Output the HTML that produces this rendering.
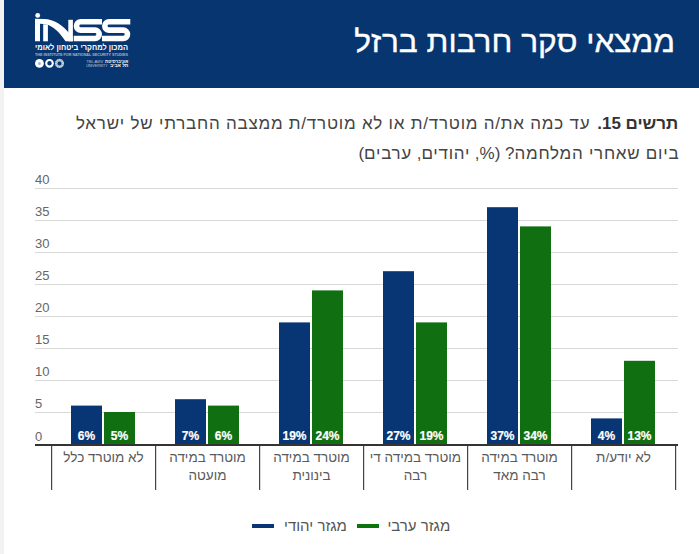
<!DOCTYPE html>
<html lang="he" dir="rtl">
<head>
<meta charset="utf-8">
<style>
html,body{margin:0;padding:0;}
body{width:699px;height:554px;overflow:hidden;position:relative;background:#fff;font-family:"Liberation Sans",sans-serif;}
.strip{position:absolute;left:0;top:0;width:4px;height:554px;background:#f2f2f2;}
.header{position:absolute;left:4px;top:0;width:695px;height:88px;background:#063570;}
.title{position:absolute;right:24px;top:24.3px;color:#fff;font-size:30px;line-height:36px;white-space:nowrap;transform:scaleX(1.055);transform-origin:100% 50%;-webkit-text-stroke:0.35px #fff;}
.q{position:absolute;right:22px;color:#444;font-size:17px;line-height:20px;white-space:nowrap;}
.q b{color:#333;}
.yl{position:absolute;left:35px;color:#666;font-size:13px;line-height:14px;direction:ltr;}
.xl{position:absolute;width:104px;text-align:center;color:#5a5a5a;font-size:13.5px;line-height:18px;}
.bl{position:absolute;width:31px;text-align:center;color:#fff;font-size:12px;font-weight:bold;line-height:12px;direction:ltr;-webkit-text-stroke:0.2px #fff;}
.lg{position:absolute;color:#555;font-size:15px;line-height:16px;white-space:nowrap;}
svg{position:absolute;left:0;top:0;direction:ltr;}
</style>
</head>
<body>
<div class="strip"></div>
<div class="header">
</div>
<svg width="699" height="554" viewBox="0 0 699 554">
  <!-- logo -->
  <g fill="#fff">
    <circle cx="37.7" cy="15.4" r="2.4"/>
    <path d="M35,18.7 L44,18.9 C54,19.2 63,25 70,34 L72.9,38 V41.3 H65.5 C60,33 54,26.5 46,24.3 L40,23.8 V41.3 H35 Z"/>
    <rect x="43.2" y="24.3" width="4.7" height="17"/>
    <rect x="68.3" y="19.8" width="4.6" height="21.5"/>
    <path fill="none" stroke="#fff" stroke-width="5.6" d="M102,21.75 H80.7 A4.2,4.2 0 0 0 80.7,30.15 H95 A4.2,4.2 0 0 1 95,38.55 H73.7"/>
    <path fill="none" stroke="#fff" stroke-width="5.6" d="M130.3,21.75 H109 A4.2,4.2 0 0 0 109,30.15 H123.3 A4.2,4.2 0 0 1 123.3,38.55 H102"/>
    <circle cx="39.45" cy="63.45" r="4.4"/>
    <circle cx="49.5" cy="63.35" r="3.3" fill="none" stroke="#fff" stroke-width="2.1"/>
    <circle cx="59.5" cy="63.4" r="3.3" fill="none" stroke="#fff" stroke-width="2.6" opacity="0.55"/>
    <circle cx="59.5" cy="63.4" r="3.3" fill="none" stroke="#fff" stroke-width="2.2" stroke-dasharray="0.9 0.7" opacity="0.6"/>
    <text x="35" y="49.9" font-size="8.4" font-weight="bold" textLength="93" lengthAdjust="spacingAndGlyphs" style="font-family:'Liberation Sans',sans-serif">המכון למחקרי ביטחון לאומי</text>
    <text x="35" y="56" font-size="3.6" font-weight="bold" textLength="93" lengthAdjust="spacingAndGlyphs" opacity="0.6" style="font-family:'Liberation Sans',sans-serif">THE INSTITUTE FOR NATIONAL SECURITY STUDIES</text>
    <text x="86.6" y="63.1" font-size="3.8" textLength="16.4" lengthAdjust="spacingAndGlyphs" opacity="0.7" style="font-family:'Liberation Sans',sans-serif">TEL AVIV</text>
    <text x="86.2" y="67" font-size="3.8" textLength="21.5" lengthAdjust="spacingAndGlyphs" opacity="0.7" style="font-family:'Liberation Sans',sans-serif">UNIVERSITY</text>
    <text x="105" y="63.1" font-size="4.3" font-weight="bold" textLength="23.3" lengthAdjust="spacingAndGlyphs" style="font-family:'Liberation Sans',sans-serif">אוניברסיטת</text>
    <text x="110" y="67" font-size="4.3" font-weight="bold" textLength="18.3" lengthAdjust="spacingAndGlyphs" style="font-family:'Liberation Sans',sans-serif">תל אביב</text>
  </g>
  <circle cx="39.45" cy="63.6" r="1.5" fill="#a9b6cf"/>
  <!-- gridlines -->
  <g fill="#d9d9d9">
    <rect x="35" y="188" width="643" height="1"/>
    <rect x="35" y="220" width="643" height="1"/>
    <rect x="35" y="252" width="643" height="1"/>
    <rect x="35" y="284" width="643" height="1"/>
    <rect x="35" y="316" width="643" height="1"/>
    <rect x="35" y="348" width="643" height="1"/>
    <rect x="35" y="380" width="643" height="1"/>
    <rect x="35" y="412" width="643" height="1"/>
  </g>
  <!-- bars -->
  <g fill="#083573">
    <rect x="71" y="405.6" width="31" height="38.4"/>
    <rect x="175" y="399.2" width="31" height="44.8"/>
    <rect x="279" y="322.4" width="31" height="121.6"/>
    <rect x="383" y="271.2" width="31" height="172.8"/>
    <rect x="487" y="207.2" width="31" height="236.8"/>
    <rect x="591" y="418.4" width="31" height="25.6"/>
  </g>
  <g fill="#107011">
    <rect x="104" y="412" width="31" height="32"/>
    <rect x="208" y="405.6" width="31" height="38.4"/>
    <rect x="312" y="290.4" width="31" height="153.6"/>
    <rect x="416" y="322.4" width="31" height="121.6"/>
    <rect x="520" y="226.4" width="31" height="217.6"/>
    <rect x="624" y="360.8" width="31" height="83.2"/>
  </g>
  <!-- axis -->
  <rect x="35" y="444" width="643" height="2" fill="#333"/>
  <g fill="#444">
    <rect x="51" y="446" width="1.2" height="44"/>
    <rect x="155" y="446" width="1.2" height="44"/>
    <rect x="259" y="446" width="1.2" height="44"/>
    <rect x="363" y="446" width="1.2" height="44"/>
    <rect x="467" y="446" width="1.2" height="44"/>
    <rect x="571" y="446" width="1.2" height="44"/>
    <rect x="675" y="446" width="1.2" height="44"/>
  </g>
  <!-- legend lines -->
  <rect x="252" y="524" width="22" height="4" fill="#083573"/>
  <rect x="357" y="524" width="22" height="4" fill="#0c730d"/>
</svg>

<div class="title">ממצאי סקר חרבות ברזל</div>
<div class="q" style="top:113.5px;right:20.7px"><b>תרשים 15.</b></div>
<div class="q" style="top:113.5px;right:108.7px;letter-spacing:0.77px">עד כמה את/ה מוטרד/ת או לא מוטרד/ת ממצבה החברתי של ישראל</div>
<div class="q" style="top:143.5px;right:19.7px;letter-spacing:0.73px">ביום שאחרי המלחמה<span style="letter-spacing:0">? (%, </span>יהודים<span style="letter-spacing:0">, </span>ערבים<span style="letter-spacing:0">)</span></div>

<div class="yl" style="top:173px">40</div>
<div class="yl" style="top:205px">35</div>
<div class="yl" style="top:237px">30</div>
<div class="yl" style="top:269px">25</div>
<div class="yl" style="top:301px">20</div>
<div class="yl" style="top:333px">15</div>
<div class="yl" style="top:365px">10</div>
<div class="yl" style="top:397px">5</div>
<div class="yl" style="top:430px">0</div>

<div class="xl" style="left:51.5px;top:449px">לא מוטרד כלל</div>
<div class="xl" style="left:155.5px;top:449px">מוטרד במידה<br>מועטה</div>
<div class="xl" style="left:259.5px;top:449px">מוטרד במידה<br>בינונית</div>
<div class="xl" style="left:363.5px;top:449px">מוטרד במידה די<br>רבה</div>
<div class="xl" style="left:467.5px;top:449px">מוטרד במידה<br>רבה מאד</div>
<div class="xl" style="left:571.5px;top:449px">לא יודע/ת</div>

<div class="bl" style="left:71px;top:430px">6%</div>
<div class="bl" style="left:104px;top:430px">5%</div>
<div class="bl" style="left:175px;top:430px">7%</div>
<div class="bl" style="left:208px;top:430px">6%</div>
<div class="bl" style="left:279px;top:430px">19%</div>
<div class="bl" style="left:312px;top:430px">24%</div>
<div class="bl" style="left:383px;top:430px">27%</div>
<div class="bl" style="left:416px;top:430px">19%</div>
<div class="bl" style="left:487px;top:430px">37%</div>
<div class="bl" style="left:520px;top:430px">34%</div>
<div class="bl" style="left:591px;top:430px">4%</div>
<div class="bl" style="left:624px;top:430px">13%</div>

<div class="lg" style="left:284px;top:518px">מגזר יהודי</div>
<div class="lg" style="left:387.4px;top:518px">מגזר ערבי</div>
</body>
</html>
